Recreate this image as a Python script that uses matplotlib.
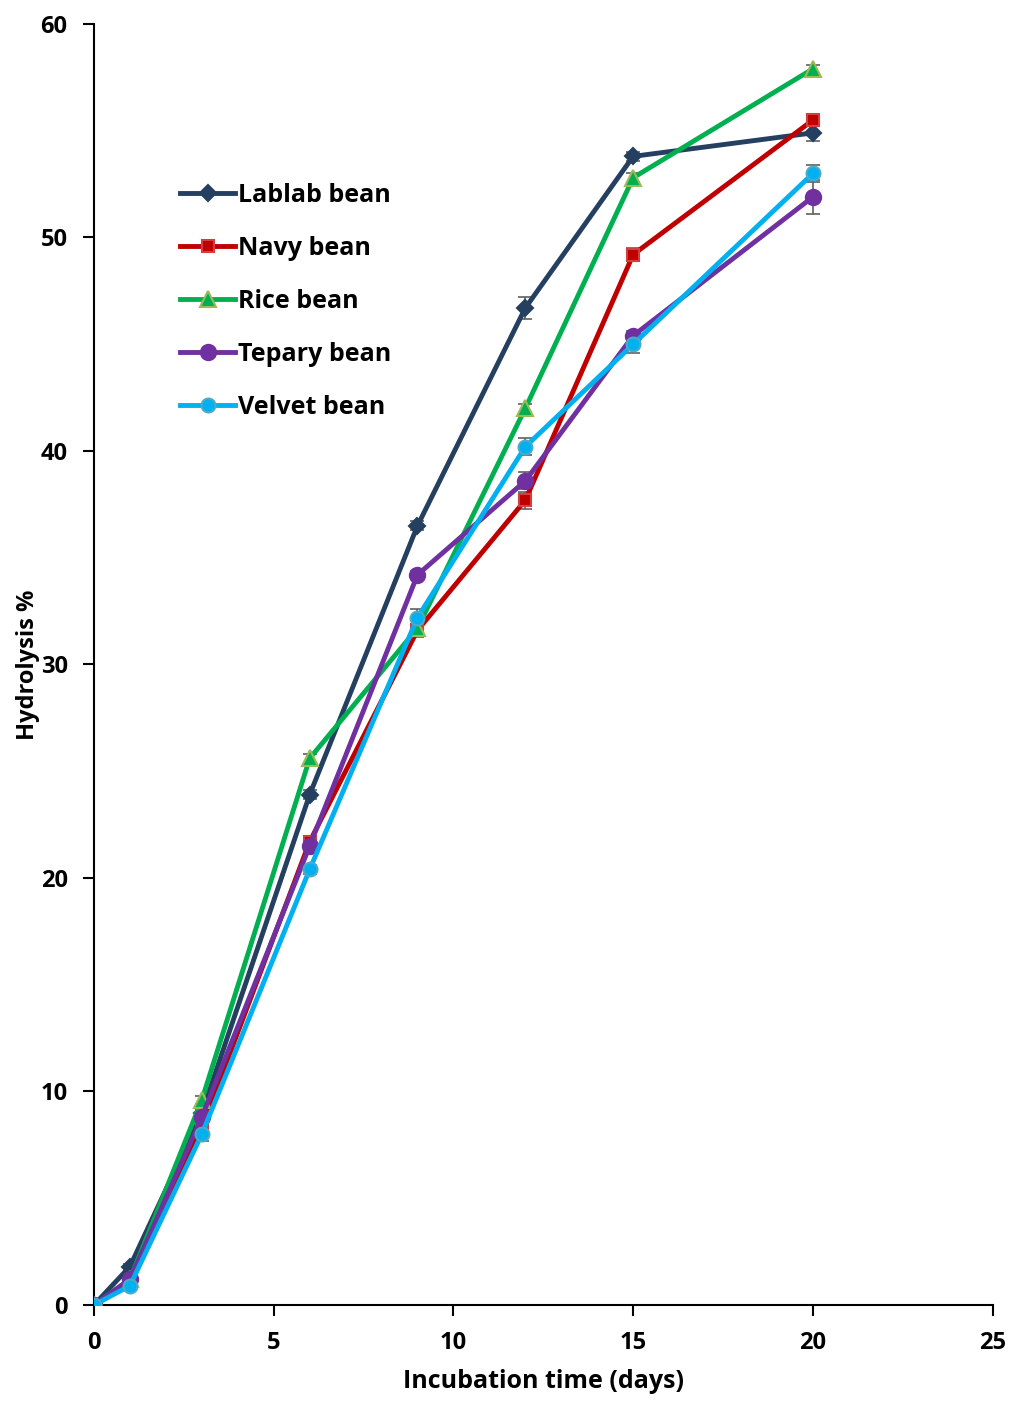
import numpy as np
import matplotlib
matplotlib.use("Agg")
import matplotlib.pyplot as plt

plt.rcParams['font.family'] = ['Open Sans', 'DejaVu Sans']
plt.rcParams['font.weight'] = 'bold'

days = [0, 1, 3, 6, 9, 12, 15, 20]

lablab = [0, 1.8, 9.0, 23.9, 36.5, 46.7, 53.8, 54.9]
navy = [0, 1.0, 8.3, 21.7, 31.6, 37.7, 49.2, 55.5]
rice = [0, 1.2, 9.6, 25.6, 31.7, 42.0, 52.8, 57.9]
tepary = [0, 1.2, 8.8, 21.5, 34.2, 38.6, 45.4, 51.9]
velvet = [0, 0.9, 8.0, 20.4, 32.2, 40.2, 45.0, 53.0]

lablab_err = [0, 0.1, 0.2, 0.2, 0.2, 0.5, 0.2, 0.4]
navy_err = [0, 0.1, 0.2, 0.2, 0.3, 0.4, 0.3, 0.3]
rice_err = [0, 0.1, 0.2, 0.2, 0.2, 0.2, 0.2, 0.2]
tepary_err = [0, 0.1, 0.2, 0.2, 0.2, 0.4, 0.2, 0.8]
velvet_err = [0, 0.1, 0.3, 0.2, 0.4, 0.4, 0.4, 0.4]

names = ['Lablab bean', 'Navy bean', 'Rice bean', 'Tepary bean', 'Velvet bean']
series = [lablab, navy, rice, tepary, velvet]
errs = [lablab_err, navy_err, rice_err, tepary_err, velvet_err]
colors = ['#243F60', '#C00000', '#00B050', '#7030A0', '#00B0F0']
edges = ['#243F60', '#D04040', '#9BBB59', '#7030A0', '#4BACC6']
markers = ['D', 's', '^', 'o', 'o']
msizes = [8, 9, 12, 11, 10]

fig = plt.figure(figsize=(10.16, 14.12), dpi=100)
ax = fig.add_axes([0.0925, 0.0758, 0.8845, 0.9072])

for y, e, c, ec, m, ms, n in zip(series, errs, colors, edges, markers, msizes, names):
    ax.errorbar(days, y, yerr=e, fmt='none', ecolor='#606060', elinewidth=1.2,
                capsize=5, capthick=1.2, zorder=2)
    ax.plot(days, y, color=c, lw=3.5, marker=m, ms=ms, mfc=c, mec=ec, mew=1.5,
            label=n, zorder=3)

ax.set_xlim(0, 25)
ax.set_ylim(0, 60)
ax.set_xticks(range(0, 26, 5))
ax.set_yticks(range(0, 61, 10))
ax.spines['top'].set_visible(False)
ax.spines['right'].set_visible(False)
for s in ['left', 'bottom']:
    ax.spines[s].set_linewidth(1.5)
ax.tick_params(direction='out', length=8, width=1.5, labelsize=17, pad=11)
for lab in ax.get_xticklabels() + ax.get_yticklabels():
    lab.set_fontweight('bold')
ax.set_xlabel('Incubation time (days)', fontsize=18, fontweight='bold', labelpad=10)
ax.set_ylabel('Hydrolysis %', fontsize=17, fontweight='bold', labelpad=0)

ax.legend(loc='upper left', bbox_to_anchor=(0.085, 0.884), frameon=False,
          prop={'size': 18, 'weight': 'bold'}, handlelength=2.2,
          handletextpad=0.1, labelspacing=1.12, borderaxespad=0)

fig.savefig('out.png', dpi=100)
